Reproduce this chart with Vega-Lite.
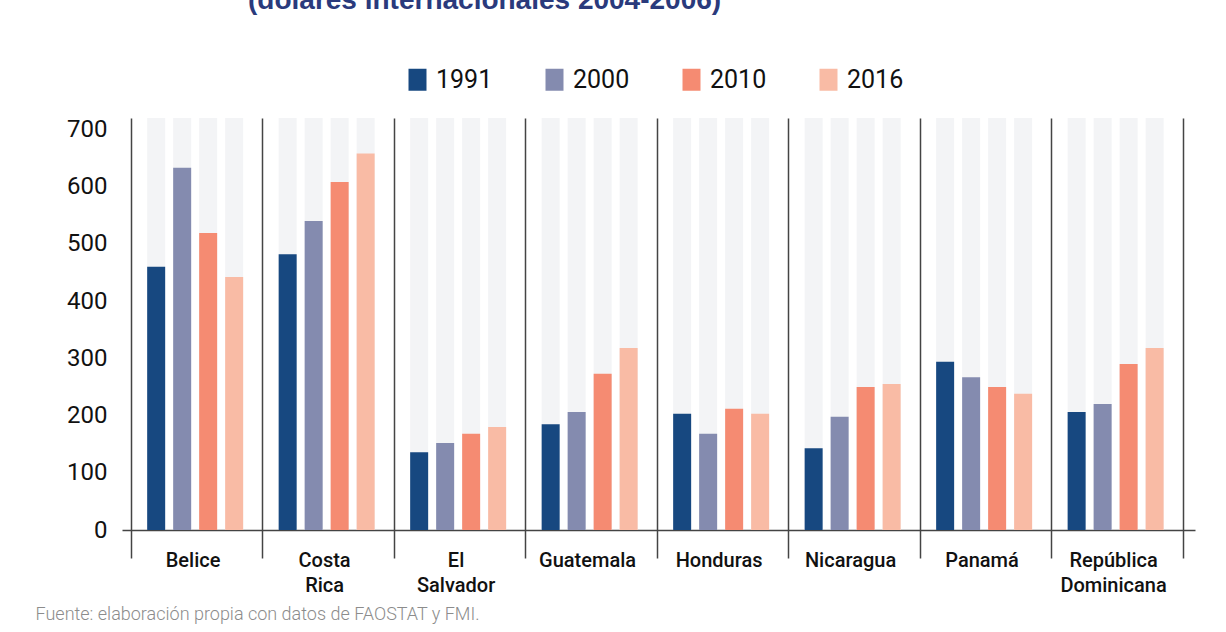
{
  "$schema": "https://vega.github.io/schema/vega-lite/v6.json",
  "width": 1073,
  "height": 412,
  "autosize": {"type": "none"},
  "padding": {"left": 122, "top": 118, "right": 31, "bottom": 102},
  "background": "white",
  "config": {
    "font": "Roboto",
    "view": {"stroke": null}
  },
  "title": {
    "text": "(dólares internacionales 2004-2006)",
    "anchor": "start",
    "frame": "group",
    "font": "Liberation Sans",
    "fontSize": 28,
    "fontWeight": "bold",
    "color": "#2a3a7c",
    "baseline": "alphabetic",
    "dx": 126,
    "offset": 30
  },
  "data": {
    "values": [
      {"pais": "Belice", "anio": "1991", "valor": 460},
      {"pais": "Belice", "anio": "2000", "valor": 633},
      {"pais": "Belice", "anio": "2010", "valor": 519},
      {"pais": "Belice", "anio": "2016", "valor": 442},
      {"pais": "Costa Rica", "anio": "1991", "valor": 482},
      {"pais": "Costa Rica", "anio": "2000", "valor": 540},
      {"pais": "Costa Rica", "anio": "2010", "valor": 608},
      {"pais": "Costa Rica", "anio": "2016", "valor": 658},
      {"pais": "El Salvador", "anio": "1991", "valor": 136},
      {"pais": "El Salvador", "anio": "2000", "valor": 152},
      {"pais": "El Salvador", "anio": "2010", "valor": 168},
      {"pais": "El Salvador", "anio": "2016", "valor": 180},
      {"pais": "Guatemala", "anio": "1991", "valor": 185},
      {"pais": "Guatemala", "anio": "2000", "valor": 206},
      {"pais": "Guatemala", "anio": "2010", "valor": 273},
      {"pais": "Guatemala", "anio": "2016", "valor": 318},
      {"pais": "Honduras", "anio": "1991", "valor": 203},
      {"pais": "Honduras", "anio": "2000", "valor": 168},
      {"pais": "Honduras", "anio": "2010", "valor": 212},
      {"pais": "Honduras", "anio": "2016", "valor": 203},
      {"pais": "Nicaragua", "anio": "1991", "valor": 143},
      {"pais": "Nicaragua", "anio": "2000", "valor": 198},
      {"pais": "Nicaragua", "anio": "2010", "valor": 250},
      {"pais": "Nicaragua", "anio": "2016", "valor": 255},
      {"pais": "Panamá", "anio": "1991", "valor": 294},
      {"pais": "Panamá", "anio": "2000", "valor": 267},
      {"pais": "Panamá", "anio": "2010", "valor": 250},
      {"pais": "Panamá", "anio": "2016", "valor": 238},
      {"pais": "República Dominicana", "anio": "1991", "valor": 206},
      {"pais": "República Dominicana", "anio": "2000", "valor": 220},
      {"pais": "República Dominicana", "anio": "2010", "valor": 290},
      {"pais": "República Dominicana", "anio": "2016", "valor": 318}
    ]
  },
  "encoding": {
    "x": {
      "field": "pais",
      "type": "nominal",
      "sort": null,
      "scale": {"paddingInner": 0, "paddingOuter": 0.08, "align": 0.42},
      "axis": {
        "title": "Fuente: elaboración propia con datos de FAOSTAT y FMI.",
        "titleAnchor": "start",
        "titleAlign": "left",
        "titleBaseline": "alphabetic",
        "titleX": -87,
        "titleY": 89,
        "titleFont": "Roboto",
        "titleFontSize": 18,
        "titleFontWeight": 300,
        "titleColor": "#8c8c8c",
        "labelAngle": 0,
        "labelExpr": "isValid(datum.value) ? split(datum.value, ' ') : ''",
        "labelFont": "Roboto",
        "labelFontSize": 20,
        "labelFontWeight": 500,
        "labelColor": "#111111",
        "labelBaseline": "top",
        "labelLineHeight": 25,
        "labelPadding": -8,
        "labelOffset": -4,
        "tickBand": "extent",
        "ticks": true,
        "tickSize": 28,
        "tickColor": "#444444",
        "tickWidth": 1.5,
        "grid": true,
        "gridColor": "#444444",
        "gridWidth": 1.5,
        "domainColor": "#444444",
        "domainWidth": 1.5
      }
    },
    "xOffset": {
      "field": "anio",
      "type": "nominal",
      "scale": {"paddingInner": 0.3077, "paddingOuter": 0.683, "align": 0.46}
    }
  },
  "layer": [
    {
      "mark": {"type": "bar", "color": "#f3f4f6"},
      "encoding": {
        "y": {
          "datum": 720,
          "type": "quantitative",
          "scale": {"domain": [0, 720], "nice": false},
          "title": null
        }
      }
    },
    {
      "mark": {"type": "bar"},
      "encoding": {
        "y": {
          "field": "valor",
          "type": "quantitative",
          "scale": {"domain": [0, 720], "nice": false},
          "title": null,
          "axis": {
            "values": [0, 100, 200, 300, 400, 500, 600, 700],
            "domain": false,
            "ticks": false,
            "grid": false,
            "labelFont": "Roboto",
            "labelFontSize": 24,
            "labelColor": "#111111",
            "labelPadding": 15
          }
        },
        "color": {
          "field": "anio",
          "type": "nominal",
          "scale": {
            "domain": ["1991", "2000", "2010", "2016"],
            "range": ["#174880", "#848baf", "#f58b72", "#f9bba5"]
          },
          "legend": {
            "orient": "none",
            "legendX": 283,
            "legendY": -51,
            "direction": "horizontal",
            "title": null,
            "padding": 0,
            "symbolType": "M-0.818,-1H0.818V1H-0.818Z",
            "symbolSize": 484,
            "symbolStrokeWidth": 0,
            "symbolOpacity": 1,
            "labelFont": "Roboto",
            "labelFontSize": 25,
            "labelColor": "#111111",
            "labelOffset": 6,
            "columnPadding": 49
          }
        }
      }
    }
  ]
}
